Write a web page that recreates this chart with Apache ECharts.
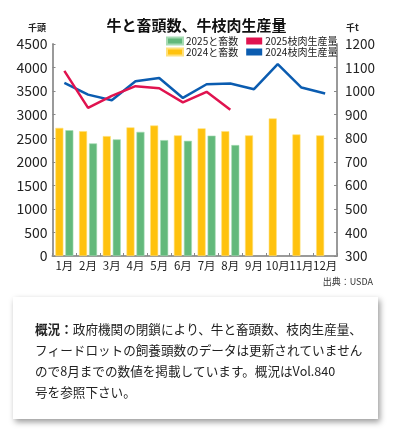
<!DOCTYPE html>
<html>
<head>
<meta charset="utf-8">
<script src="https://cdn.jsdelivr.net/npm/echarts@6/dist/echarts.min.js"></script>
<style>
html,body{margin:0;padding:0;background:#fff;}
#chart{width:393px;height:433px;}
</style>
</head>
<body>
<div id="chart"></div>
<script>
var months = ['1月','2月','3月','4月','5月','6月','7月','8月','9月','10月','11月','12月'];
var head2024 = [2720, 2650, 2545, 2730, 2770, 2560, 2710, 2650, 2560, 2920, 2580, 2560];
var head2025 = [2670, 2390, 2475, 2635, 2460, 2445, 2555, 2355, null, null, null, null];
var prod2024 = [1035, 985, 961, 1042, 1056, 971, 1029, 1032, 1008, 1115, 1015, 990];
var prod2025 = [1086, 929, 980, 1021, 1012, 952, 997, 921, null, null, null, null];
var leftTicks = {min: 0, max: 4500, interval: 500};
var rightTicks = {min: 300, max: 1200, interval: 100};

var FONT = '"Noto Sans CJK JP", "Noto Sans", sans-serif';
var plain = function (v) { return String(v); };
var chart = echarts.init(document.getElementById('chart'));
chart.setOption({
  backgroundColor: '#ffffff',
  animation: false,
  textStyle: {fontFamily: FONT},
  title: {
    text: '牛と畜頭数、牛枝肉生産量',
    left: 'center',
    top: 13,
    textStyle: {fontFamily: FONT, fontSize: 15, fontWeight: 'bold', color: '#111'}
  },
  legend: [
    {
      data: ['2025と畜数', '2025枝肉生産量'],
      left: 161, top: 31, icon: 'rect', itemWidth: 16, itemHeight: 7, itemGap: 8,
      textStyle: {fontFamily: FONT, fontSize: 10, color: '#222', padding: [0,0,0,-2]}
    },
    {
      data: ['2024と畜数', '2024枝肉生産量'],
      left: 161, top: 42, icon: 'rect', itemWidth: 16, itemHeight: 7, itemGap: 8,
      textStyle: {fontFamily: FONT, fontSize: 10, color: '#222', padding: [0,0,0,-2]}
    }
  ],
  grid: {left: 52.5, right: 56, top: 44, bottom: 177},
  xAxis: {
    type: 'category',
    data: months,
    axisLine: {lineStyle: {color: '#9a9a9a', width: 2}},
    axisTick: {show: true, inside: true, length: 3, lineStyle: {color: '#888'}},
    axisLabel: {fontFamily: FONT, fontSize: 11.5, color: '#222', margin: 4, interval: 0, hideOverlap: false}
  },
  yAxis: [
    {
      type: 'value', min: leftTicks.min, max: leftTicks.max, interval: leftTicks.interval,
      splitLine: {show: false},
      axisLine: {show: true, lineStyle: {color: '#9a9a9a', width: 2}},
      axisTick: {show: true, inside: true, length: 3, lineStyle: {color: '#888'}},
      axisLabel: {fontFamily: FONT, fontSize: 14, color: '#222', margin: 5, formatter: plain}
    },
    {
      type: 'value', min: rightTicks.min, max: rightTicks.max, interval: rightTicks.interval,
      splitLine: {show: false},
      axisLine: {show: true, lineStyle: {color: '#9a9a9a', width: 2}},
      axisTick: {show: true, inside: true, length: 3, lineStyle: {color: '#888'}},
      axisLabel: {fontFamily: FONT, fontSize: 13.5, color: '#222', margin: 8, formatter: plain}
    }
  ],
  series: [
    {
      name: '2024と畜数', type: 'bar', data: head2024, barWidth: 8, barGap: '25%',
      itemStyle: {color: '#ffc20e', borderColor: '#ffe07a', borderWidth: 0.6}
    },
    {
      name: '2025と畜数', type: 'bar', data: head2025, barWidth: 8,
      itemStyle: {color: '#63b97b', borderColor: '#a6dbb3', borderWidth: 0.6}
    },
    {
      name: '2025枝肉生産量', type: 'line', yAxisIndex: 1, data: prod2025,
      showSymbol: false, symbol: 'none', z: 5,
      lineStyle: {color: '#e0134f', width: 2.5}, itemStyle: {color: '#e0134f'}
    },
    {
      name: '2024枝肉生産量', type: 'line', yAxisIndex: 1, data: prod2024,
      showSymbol: false, symbol: 'none', z: 4,
      lineStyle: {color: '#0b5cb0', width: 2.5}, itemStyle: {color: '#0b5cb0'}
    }
  ],
  graphic: [
    {type: 'text', left: 28, top: 23, style: {text: '千頭', font: 'bold 9px ' + FONT, fill: '#222'}},
    {type: 'text', left: 346, top: 23, style: {text: '千t', font: 'bold 9px ' + FONT, fill: '#222'}},
    {type: 'text', right: 20, top: 277, style: {text: '出典：USDA', font: '9px ' + FONT, fill: '#333'}},
    {
      type: 'rect', shape: {x: 13, y: 297, width: 365, height: 122},
      style: {fill: '#ffffff', shadowBlur: 6, shadowColor: 'rgba(0,0,0,0.4)', shadowOffsetX: 2, shadowOffsetY: 3}
    },
    {
      type: 'text', x: 35, y: 319,
      style: {
        text: '{b|概況：}政府機関の閉鎖により、牛と畜頭数、枝肉生産量、\nフィードロットの飼養頭数のデータは更新されていません\nので8月までの数値を掲載しています。概況はVol.840\n号を参照下さい。',
        font: '12.6px ' + FONT,
        fontSize: 12.6,
        fontFamily: FONT,
        fill: '#222',
        lineHeight: 21,
        rich: {b: {fontWeight: 'bold', fontSize: 12.6, fontFamily: FONT, fill: '#222', lineHeight: 21}}
      }
    }
  ]
});
</script>
</body>
</html>
